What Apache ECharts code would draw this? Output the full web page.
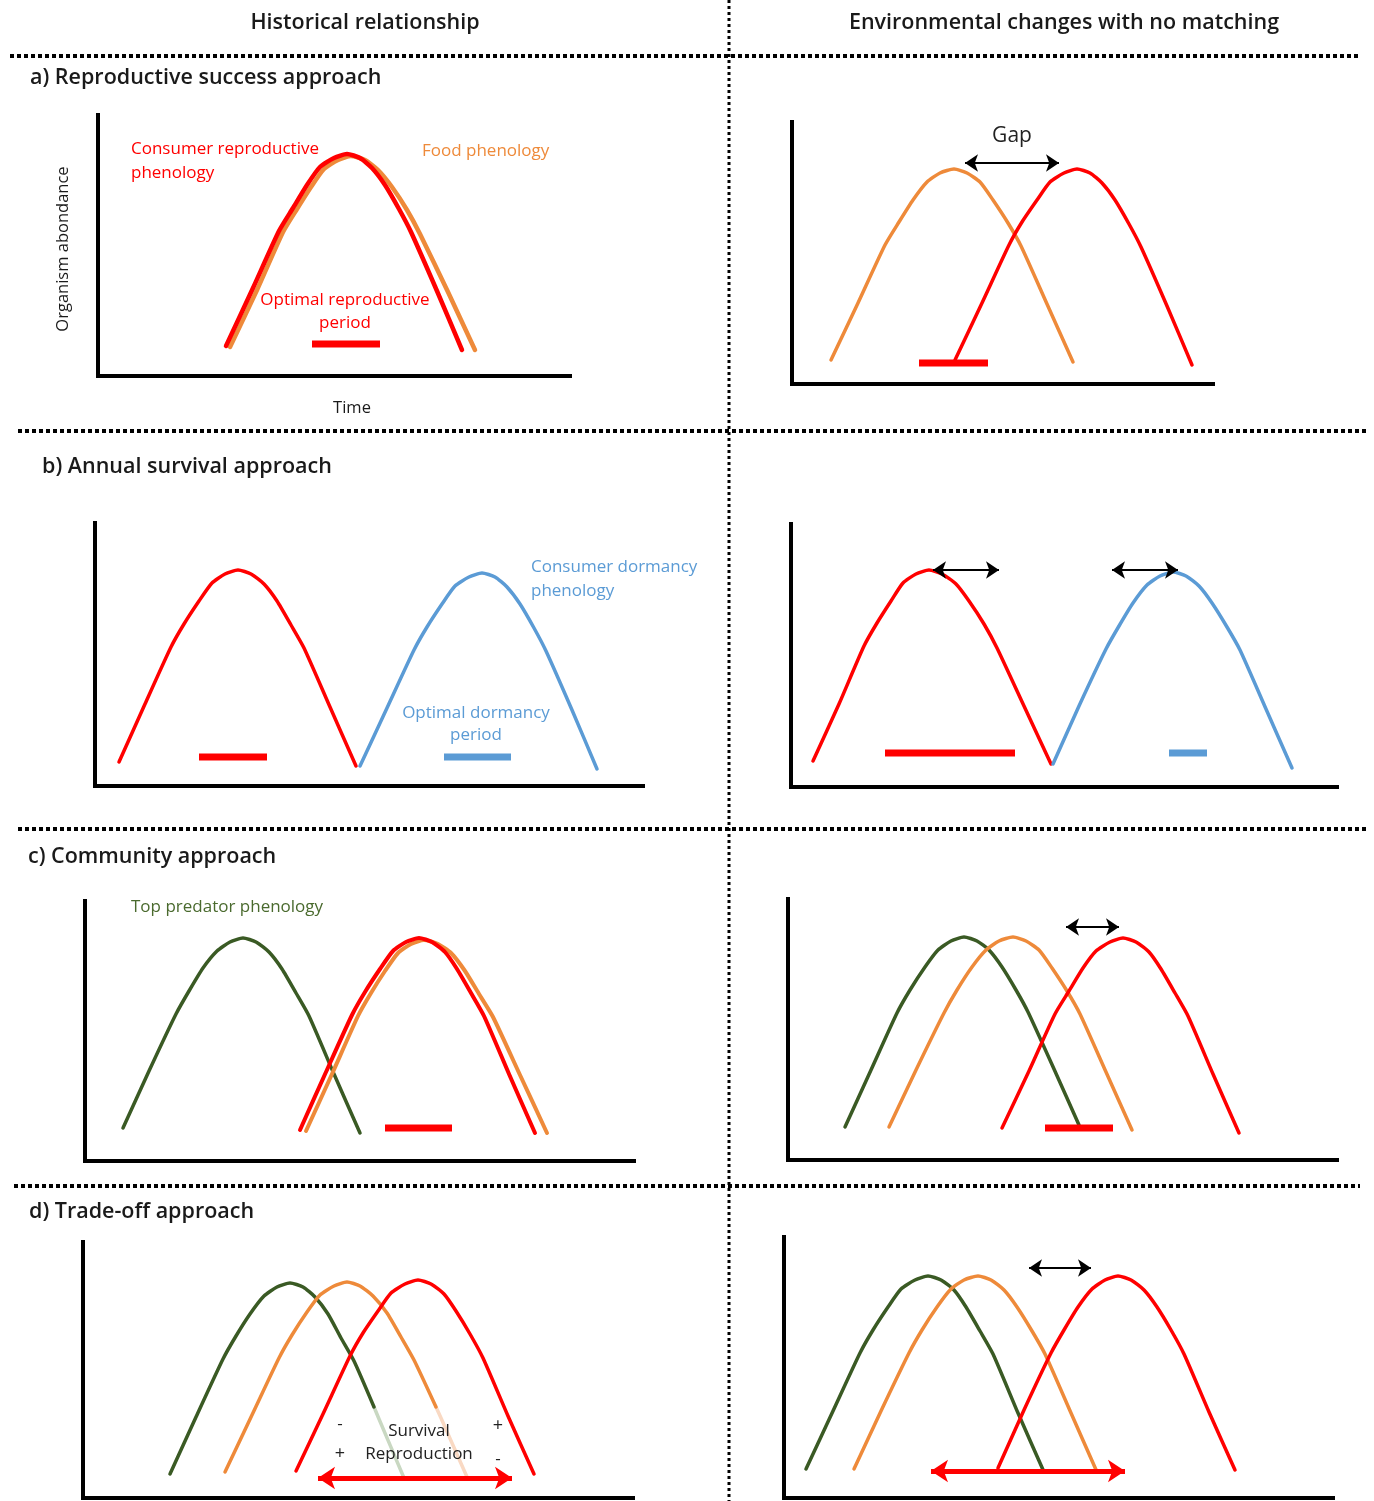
<!DOCTYPE html>
<html><head><meta charset="utf-8">
<script src="https://cdn.jsdelivr.net/npm/echarts@6/dist/echarts.min.js"></script>
<style>html,body{margin:0;padding:0;background:#fff}#c{width:1374px;height:1501px}</style>
</head><body><div id="c"></div>
<script>
// ---------- DATA (time, abundance) per panel ----------
// a) Reproductive success – historical
const aL_consumer = [[128,30],[155,88],[181,145],[195,168],[209,191],[222,209],[236,218],[249,222],[262,218],[274,208],[287,191],[301,167],[313,144],[339,85],[364,26]];
const aL_food     = [[132,29],[159,86],[185,144],[199,167],[213,189],[226,207],[240,216],[253,220],[267,216],[280,206],[294,189],[309,166],[322,142],[350,84],[377,26]];
const aL_optimal  = [[214,32],[282,32]];
// a) – environmental change
const aR_food     = [[39,24],[66,81],[93,139],[107,162],[121,184],[135,202],[148,211],[162,215],[175,211],[188,202],[201,184],[216,161],[229,138],[255,80],[281,22]];
const aR_consumer = [[163,24],[190,81],[217,139],[230,162],[245,184],[258,202],[272,211],[285,215],[298,211],[310,201],[323,184],[337,160],[349,137],[375,78],[400,19]];
const aR_optimal  = [[127,21],[196,21]];
const aR_gap      = [173,267,221];
// b) Annual survival – historical
const bL_consumer = [[24,24],[50,82],[76,139],[89,162],[104,185],[117,203],[130,212],[143,216],[156,212],[169,202],[182,185],[196,161],[209,138],[235,79],[261,20]];
const bL_dormancy = [[265,20],[292,78],[319,136],[332,159],[347,182],[360,200],[374,209],[387,213],[400,209],[412,199],[425,182],[439,158],[451,135],[477,76],[502,17]];
const bL_optRep   = [[104,29],[172,29]];
const bL_optDorm  = [[349,29],[416,29]];
// b) – environmental change
const bR_consumer = [[22,26],[48,83],[73,141],[86,164],[100,186],[112,204],[125,213],[138,217],[151,213],[165,203],[178,186],[193,163],[206,139],[233,81],[260,23]];
const bR_dormancy = [[262,23],[288,81],[315,138],[328,161],[342,184],[356,202],[369,211],[382,215],[395,211],[408,201],[421,184],[436,160],[449,137],[475,78],[501,19]];
const bR_optRep   = [[94,34],[224,34]];
const bR_optDorm  = [[378,34],[416,34]];
const bR_shift1   = [142,208,217];
const bR_shift2   = [321,387,217];
// c) Community – historical
const cL_predator = [[38,33],[64,90],[91,147],[104,170],[118,193],[132,210],[145,219],[158,223],[171,219],[184,209],[197,192],[211,168],[224,145],[249,87],[275,28]];
const cL_consumer = [[215,31],[241,89],[267,146],[280,169],[295,192],[308,210],[321,219],[334,223],[347,219],[360,209],[372,192],[386,168],[399,145],[424,87],[450,28]];
const cL_food     = [[221,30],[247,87],[273,145],[286,168],[300,190],[313,208],[326,217],[339,221],[353,217],[366,208],[380,190],[394,167],[408,144],[435,86],[462,28]];
const cL_optimal  = [[300,33],[367,33]];
// c) – environmental change
const cR_predator = [[57,33],[83,90],[109,147],[122,170],[137,193],[150,210],[163,219],[176,223],[189,219],[201,210],[214,193],[228,170],[240,148],[266,91],[291,35]];
const cR_food     = [[101,33],[128,90],[156,147],[169,170],[184,193],[198,210],[211,219],[225,223],[238,219],[251,210],[264,192],[279,169],[292,146],[318,88],[344,30]];
const cR_consumer = [[214,32],[241,89],[267,146],[281,169],[295,192],[308,209],[322,218],[335,222],[348,218],[361,208],[373,191],[387,167],[400,144],[425,86],[451,27]];
const cR_optimal  = [[257,32],[325,32]];
const cR_shift    = [278,331,233];
// d) Trade-off – historical (predator & food fade out below the trade-off window)
const dL_predator     = [[87,24],[113,81],[140,139],[153,162],[167,184],[181,202],[194,211],[207,215],[220,211],[232,201],[245,184],[258,160],[271,137],[291,91]];
const dL_predatorFade = [[291,91],[296,79],[321,20]];
const dL_food         = [[142,26],[169,83],[196,140],[209,163],[224,186],[237,203],[251,212],[264,216],[277,212],[290,202],[304,185],[318,161],[331,138],[353,91]];
const dL_foodFade     = [[353,91],[358,80],[384,21]];
const dL_consumer     = [[213,27],[240,84],[267,142],[280,165],[295,187],[308,205],[322,214],[335,218],[348,214],[361,204],[373,187],[387,164],[400,140],[425,82],[451,24]];
const dL_window       = [235,429,20];
// d) – environmental change
const dR_predator = [[22,29],[49,87],[76,145],[89,168],[104,191],[117,209],[131,218],[144,222],[157,218],[170,208],[182,191],[196,167],[209,144],[234,85],[260,26]];
const dR_food     = [[70,29],[97,87],[125,145],[138,168],[153,191],[167,209],[180,218],[194,222],[207,218],[220,208],[233,191],[248,167],[261,144],[287,85],[313,26]];
const dR_consumer = [[214,30],[240,88],[267,145],[280,168],[294,191],[308,209],[321,218],[334,222],[347,218],[360,208],[373,191],[387,168],[400,144],[425,86],[451,28]];
const dR_window   = [147,341,27];
const dR_shift    = [245,307,230];

// ---------- LAYOUT ----------
const panels = [
  {left:98,  top:115,  width:472, height:261},
  {left:792, top:122,  width:421, height:262},
  {left:95,  top:523,  width:548, height:263},
  {left:791, top:524,  width:546, height:263},
  {left:85,  top:901,  width:549, height:260},
  {left:788, top:899,  width:549, height:261},
  {left:83,  top:1242, width:550, height:256},
  {left:784, top:1237, width:549, height:261}
];
const RED='#FF0000', ORANGE='#EE8A3A', BLUE='#5B9BD5', GREEN='#3A5A24',
      GREEN_FADE='#C9D8C2', ORANGE_FADE='#F9D9C3', FONT='"Open Sans", Lato, sans-serif';

const grid = panels.map(p=>({left:p.left, top:p.top, width:p.width, height:p.height, containLabel:false}));
const axisLine = {show:true, onZero:false, lineStyle:{color:'#000', width:4, cap:'square'}};
const xAxis = panels.map((p,i)=>({type:'value', gridIndex:i, min:0, max:p.width, axisLine, axisTick:{show:false}, axisLabel:{show:false}, splitLine:{show:false}}));
const yAxis = panels.map((p,i)=>({type:'value', gridIndex:i, min:0, max:p.height, axisLine, axisTick:{show:false}, axisLabel:{show:false}, splitLine:{show:false}}));

const series = [];
function curve(g, data, color, width){
  series.push({type:'line', xAxisIndex:g, yAxisIndex:g, data, smooth:0.2, showSymbol:false, silent:true,
    lineStyle:{color, width:width||3.5, cap:'round', join:'round'}, z:2});
}
function period(g, data, color){
  series.push({type:'line', xAxisIndex:g, yAxisIndex:g, data, showSymbol:false, silent:true,
    lineStyle:{color, width:7, cap:'butt'}, z:3});
}
function arrow(g, a, color, width, size){
  series.push({type:'line', xAxisIndex:g, yAxisIndex:g, data:[[a[0],a[2]]], showSymbol:false, silent:true,
    lineStyle:{width:0},
    markLine:{silent:true, animation:false, symbol:['arrow','arrow'], symbolSize:size,
      label:{show:false}, lineStyle:{color, width, type:'solid'}, emphasis:{disabled:true},
      data:[[{coord:[a[0],a[2]]},{coord:[a[1],a[2]]}]]}, z:4});
}

curve(0, aL_food, ORANGE, 4.5); curve(0, aL_consumer, RED, 4.5); period(0, aL_optimal, RED);
curve(1, aR_food, ORANGE); curve(1, aR_consumer, RED); period(1, aR_optimal, RED); arrow(1, aR_gap, '#000', 2, [13,13]);
curve(2, bL_consumer, RED); curve(2, bL_dormancy, BLUE); period(2, bL_optRep, RED); period(2, bL_optDorm, BLUE);
curve(3, bR_consumer, RED); curve(3, bR_dormancy, BLUE); period(3, bR_optRep, RED); period(3, bR_optDorm, BLUE);
arrow(3, bR_shift1, '#000', 2, [13,13]); arrow(3, bR_shift2, '#000', 2, [13,13]);
curve(4, cL_predator, GREEN); curve(4, cL_food, ORANGE, 4); curve(4, cL_consumer, RED, 4); period(4, cL_optimal, RED);
curve(5, cR_predator, GREEN); curve(5, cR_food, ORANGE); curve(5, cR_consumer, RED); period(5, cR_optimal, RED);
arrow(5, cR_shift, '#000', 2, [13,13]);
curve(6, dL_predatorFade, GREEN_FADE); curve(6, dL_foodFade, ORANGE_FADE);
curve(6, dL_predator, GREEN); curve(6, dL_food, ORANGE); curve(6, dL_consumer, RED);
arrow(6, dL_window, RED, 5, [17,17]);
curve(7, dR_predator, GREEN); curve(7, dR_food, ORANGE); curve(7, dR_consumer, RED);
arrow(7, dR_window, RED, 5, [17,17]); arrow(7, dR_shift, '#000', 2, [13,13]);

// ---------- TEXT & SEPARATORS ----------
function txt(x, y, text, o){
  o = o||{};
  return {type:'text', x, y, rotation:o.rot||0, silent:true, z:10,
    style:{text, fill:o.color||'#1a1a1a', fontSize:o.size||17, fontWeight:o.weight||'normal', fontFamily:FONT,
      align:o.align||'left', verticalAlign:'middle'}};
}
function dotted(x1,y1,x2,y2,w,dash){
  return {type:'line', silent:true, z:1, shape:{x1,y1,x2,y2}, style:{stroke:'#000', lineWidth:w, lineDash:dash}};
}
const H = {size:21.5, weight:600};
const graphic = [
  dotted(10,56,1358,56,4,[4,3]), dotted(18,431,1366,431,4,[4,3]),
  dotted(18,829,1366,829,4,[4,3]), dotted(14,1186,1360,1186,4,[4,3]),
  dotted(729,0,729,1501,3,[3,3]),
  txt(365,23,'Historical relationship',{...H,align:'center'}),
  txt(1064,23,'Environmental changes with no matching',{...H,align:'center'}),
  txt(30,78,'a) Reproductive success approach',H),
  txt(42,467,'b) Annual survival approach',H),
  txt(28,857,'c) Community approach',H),
  txt(29,1212,'d) Trade-off approach',H),
  txt(131,149,'Consumer reproductive',{color:RED}),
  txt(131,173,'phenology',{color:RED}),
  txt(422,151,'Food phenology',{color:ORANGE}),
  txt(345,300,'Optimal reproductive',{color:RED,align:'center'}),
  txt(345,323,'period',{color:RED,align:'center'}),
  txt(63,249,'Organism abondance',{size:16.5,align:'center',rot:Math.PI/2}),
  txt(352,408,'Time',{size:16.5,align:'center'}),
  txt(1012,136,'Gap',{size:21,align:'center',color:'#222'}),
  txt(531,567,'Consumer dormancy',{color:BLUE}),
  txt(531,591,'phenology',{color:BLUE}),
  txt(476,713,'Optimal dormancy',{color:BLUE,align:'center'}),
  txt(476,735,'period',{color:BLUE,align:'center'}),
  txt(131,907,'Top predator phenology',{color:'#4A6A2E'}),
  txt(340,1424,'-',{align:'center',color:'#222'}),
  txt(419,1431,'Survival',{align:'center',color:'#222'}),
  txt(498,1426,'+',{size:18,align:'center',color:'#222'}),
  txt(340,1454,'+',{size:18,align:'center',color:'#222'}),
  txt(419,1454,'Reproduction',{align:'center',color:'#222'}),
  txt(498,1459,'-',{align:'center',color:'#222'})
];

const chart = echarts.init(document.getElementById('c'), null, {renderer:'canvas'});
chart.setOption({animation:false, backgroundColor:'#fff', grid, xAxis, yAxis, series, graphic});
</script></body></html>
